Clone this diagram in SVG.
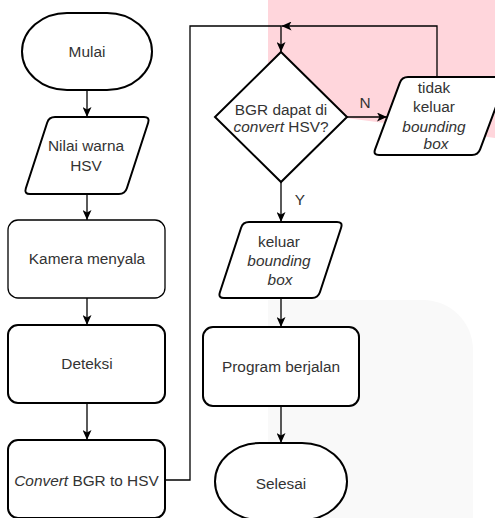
<svg xmlns="http://www.w3.org/2000/svg" width="495" height="518" viewBox="0 0 495 518">
<style>
.bg{stroke:none}
.shape{fill:#fff;stroke:#000;stroke-width:2;stroke-linejoin:round}
.thin{stroke-width:1.3}
.conn path{fill:none;stroke:#000;stroke-width:1.3}
.t{font-family:"Liberation Sans",Arial,Helvetica,sans-serif;font-size:15.4px;fill:#333;text-anchor:middle}
.i{font-style:italic}
</style>
<defs>
<marker id="arr" viewBox="0 0 10 9" refX="10" refY="4.5" markerWidth="10" markerHeight="9" markerUnits="userSpaceOnUse" orient="auto">
<path d="M0,0 L10,4.5 L0,9 L2.5,4.5 Z" fill="#000"/>
</marker>
</defs>
<rect width="495" height="518" fill="#fff"/>
<path class="bg" d="M268,0 H495 V138 Q380,122 268,108 Z" fill="#ffd6dc"/>
<path class="bg" d="M268,518 V300 H423 A50,50 0 0 1 473,350 V518 Z" fill="#f9f9f9"/>

<g class="conn">
<path d="M87,90 V117" marker-end="url(#arr)"/>
<path d="M87,194 V220" marker-end="url(#arr)"/>
<path d="M87,298 V325" marker-end="url(#arr)"/>
<path d="M87,403 V440" marker-end="url(#arr)"/>
<path d="M165,480 H190 V26 H281 V52" marker-end="url(#arr)"/>
<path d="M347,117 H387" marker-end="url(#arr)"/>
<path d="M437,77 V26 H281.5" marker-end="url(#arr)"/>
<path d="M281,182 V222" marker-end="url(#arr)"/>
<path d="M281,298 V327" marker-end="url(#arr)"/>
<path d="M281,406 V443" marker-end="url(#arr)"/>
<text class="t" x="365" y="108">N</text>
<text class="t" x="300" y="205">Y</text>
</g>

<g id="mulai">
<rect class="shape" x="22" y="13" width="130" height="77" rx="45" ry="38.5"/>
<text class="t" x="87" y="57">Mulai</text>
</g>
<g id="nilai">
<path class="shape" d="M55,117 H144 Q150,117 148.15,122.7 L126.85,188.3 Q125,194 119,194 H30 Q24,194 25.85,188.3 L47.15,122.7 Q49,117 55,117 Z"/>
<text class="t" x="86" y="151">Nilai warna</text>
<text class="t" x="86" y="171">HSV</text>
</g>
<g id="kamera">
<rect class="shape thin" x="8" y="220" width="157" height="78" rx="10"/>
<text class="t" x="87" y="264">Kamera menyala</text>
</g>
<g id="deteksi">
<rect class="shape" x="8" y="325" width="157" height="78" rx="10"/>
<text class="t" x="87" y="369">Deteksi</text>
</g>
<g id="convert">
<rect class="shape" x="8" y="440" width="157" height="78" rx="10"/>
<text class="t" x="86.5" y="486"><tspan class="i">Convert</tspan> BGR to HSV</text>
</g>
<g id="decision">
<path class="shape" d="M281,52 L347,117 L281,182 L215,117 Z" style="stroke-linejoin:miter"/>
<text class="t" x="281" y="115">BGR dapat di</text>
<text class="t" x="281" y="132"><tspan class="i">convert</tspan> HSV?</text>
</g>
<g id="tidak">
<path class="shape" d="M408,77 H501 Q507,77 504.9,82.6 L480.1,149.4 Q478,155 472,155 H379 Q373,155 375.1,149.4 L399.9,82.6 Q402,77 408,77 Z"/>
<text class="t" x="434" y="93">tidak</text>
<text class="t" x="434" y="112">keluar</text>
<text class="t i" x="434" y="132">bounding</text>
<text class="t i" x="436" y="149">box</text>
</g>
<g id="keluar">
<path class="shape" d="M249,222 H337 Q343,222 341.1,227.7 L319.9,292.3 Q318,298 312,298 H224 Q218,298 219.9,292.3 L241.1,227.7 Q243,222 249,222 Z"/>
<text class="t" x="279" y="247">keluar</text>
<text class="t i" x="279" y="266">bounding</text>
<text class="t i" x="280" y="285">box</text>
</g>
<g id="program">
<rect class="shape" x="203" y="327" width="156" height="79" rx="10"/>
<text class="t" x="281" y="372">Program berjalan</text>
</g>
<g id="selesai">
<rect class="shape" x="215" y="443" width="132" height="77" rx="45" ry="38.5"/>
<text class="t" x="281" y="489">Selesai</text>
</g>
</svg>
